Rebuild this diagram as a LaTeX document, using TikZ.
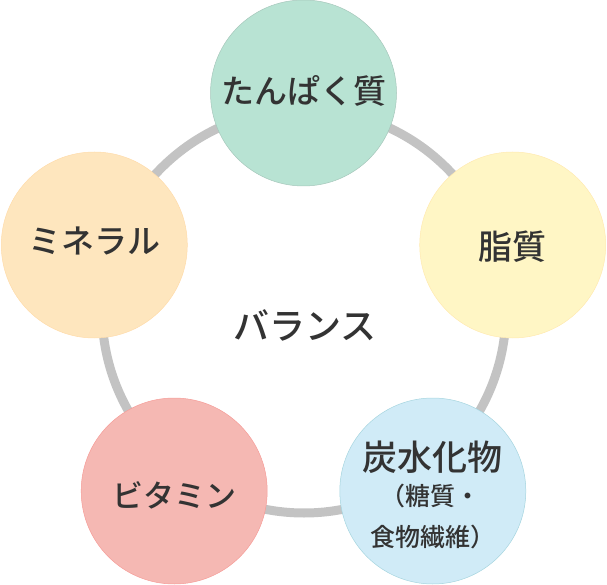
\documentclass[tikz,border=0pt]{standalone}
\usepackage{fontspec}
\setmainfont{Noto Sans CJK JP}[BoldFont={Noto Sans CJK JP Medium}]
\usetikzlibrary{positioning}
\definecolor{ink}{HTML}{333333}
\definecolor{ring}{HTML}{C3C3C3}
\definecolor{mintg}{HTML}{B8E3D3}
\definecolor{lemon}{HTML}{FFF6C5}
\definecolor{peach}{HTML}{FEE6BE}
\definecolor{rose}{HTML}{F5B8B3}
\definecolor{sky}{HTML}{D0EBF7}
\tikzset{
  every node/.style={text=ink,inner sep=0pt},
  nutrient/.style={circle,minimum size=186pt,line width=.5pt},
  big/.style={font=\bfseries\fontsize{33}{33}\selectfont},
  kanji/.style={font=\bfseries\fontsize{35}{35}\selectfont},
  small/.style={font=\bfseries\fontsize{25}{25}\selectfont},
  cycle/.style={draw=ring,line width=9pt},
}
\begin{document}
\begin{tikzpicture}[x=1pt,y=1pt]
\path[use as bounding box] (0,0) rectangle (607,584);
% grey ring behind the five circles
\coordinate (mid) at (304,273);
\draw[cycle] (mid) circle (202);
% five nutrients on a pentagon
\node[nutrient,fill=mintg,draw=mintg!85!black!90] (protein) at (303.5,491) {};
\node[nutrient,fill=lemon,draw=lemon!90!orange] (fat) at (512.7,339) {};
\node[nutrient,fill=peach,draw=peach!90!orange] (mineral) at (94.3,339) {};
\node[nutrient,fill=rose,draw=rose!85!red] (vitamin) at (174.2,93) {};
\node[nutrient,fill=sky,draw=sky!80!teal] (carb) at (432.8,93) {};
% labels
\node[big,font=\bfseries\fontsize{36}{36}\selectfont] (balance) at (305,259) {バランス};
\node[big] (proteinlbl) at ([yshift=2]protein.center) {たんぱく質};
\node[kanji,font=\bfseries\fontsize{34}{34}\selectfont] (fatlbl) at ([yshift=-2]fat.center) {脂質};
\node[big] (minerallbl) at ([yshift=4]mineral.center) {ミネラル};
\node[big,font=\bfseries\fontsize{31}{31}\selectfont] (vitaminlbl) at ([yshift=-4]vitamin.center) {ビタミン};
\node[kanji] (carblbl) at ([yshift=34]carb.center) {炭水化物};
\node[small] (carbsub) at ([xshift=-2,yshift=-5]carb.center) {（糖質・};
\node[small] (carbsubb) at ([yshift=-46]carb.center) {食物繊維）};
\end{tikzpicture}
\end{document}
